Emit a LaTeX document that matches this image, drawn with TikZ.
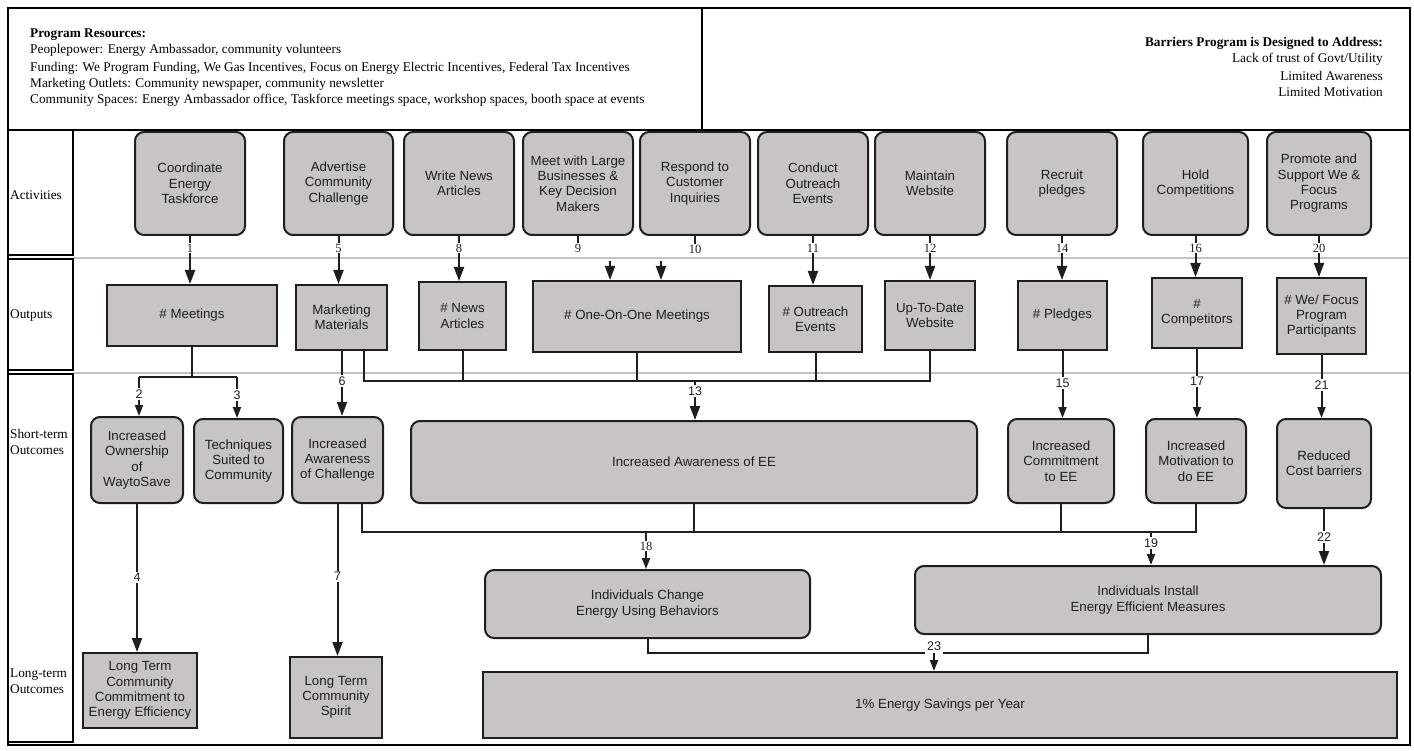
\documentclass[tikz,border=0pt]{standalone}
\usepackage{fontspec}
\setmainfont{Liberation Serif}
\newfontfamily\boxfont{Liberation Sans}
\usetikzlibrary{positioning, arrows.meta}

\definecolor{boxgray}{RGB}{200,196,196}
\definecolor{rulegray}{RGB}{195,195,195}
\definecolor{ink}{RGB}{30,30,30}

\begin{document}
\begin{tikzpicture}[x=1pt, y=-1pt,
  activity/.style={rectangle, draw=ink, line width=2pt, rounded corners=9pt, fill=boxgray, text=ink, align=center, inner sep=2pt, font=\boxfont\fontsize{13.3}{15.3}\selectfont},
  output/.style={activity, sharp corners},
  outcome/.style={activity},
  num/.style={inner sep=1pt, text=ink, font=\fontsize{12.5}{14}\selectfont},
  numsf/.style={num, font=\boxfont\fontsize{12.5}{14}\selectfont},
  wire/.style={draw=ink, line width=2pt},
  link/.style={wire, -{Triangle[length=14pt, width=10pt]}},
  slink/.style={wire, -{Triangle[length=11pt, width=8pt]}},
  frame/.style={draw=black, line width=2.6pt},
  rule/.style={draw=rulegray, line width=1.5pt},
  rowname/.style={anchor=west, align=left, inner sep=0pt, font=\fontsize{13.3}{16}\selectfont}
]
\useasboundingbox (0,0) rectangle (1414,751);

% Header
\draw[frame] (8,8) rectangle (702,130);
\draw[frame] (702,8) rectangle (1410,130);
\node[anchor=north west, align=left, inner sep=0pt, font=\fontsize{13.3}{16}\selectfont] (resources) at (30,29)
  {\textbf{Program Resources:}\\
   Peoplepower: Energy Ambassador, community volunteers\\[2pt]
   Funding: We Program Funding, We Gas Incentives, Focus on Energy Electric Incentives, Federal Tax Incentives\\
   Marketing Outlets: Community newspaper, community newsletter\\
   Community Spaces: Energy Ambassador office, Taskforce meetings space, workshop spaces, booth space at events};
\node[anchor=north east, align=right, inner sep=0pt, font=\fontsize{13.3}{16}\selectfont] (barriers) at (1383,37)
  {\textbf{Barriers Program is Designed to Address:}\\
   Lack of trust of Govt/Utility\\[2pt]
   Limited Awareness\\
   Limited Motivation};

% Rows
\draw[rule] (73,258) -- (1410,258);
\draw[rule] (73,373) -- (1410,373);
\draw[frame] (8,130) rectangle (1410,745);
\draw[frame] (8,130) rectangle (73,255);
\draw[frame] (8,259) rectangle (73,370);
\draw[frame] (8,374) rectangle (73,742);
\node[rowname] (lact) at (10,195) {Activities};
\node[rowname] (lout) at (10,316) {Outputs};
\node[rowname] (lshort) at (10,442) {Short-term\\Outcomes};
\node[rowname] (llong) at (10,681) {Long-term\\Outcomes};

% Activities
\node[activity, minimum width=110pt, minimum height=103pt] (a1) at (190,183.5) {Coordinate\\Energy\\Taskforce};
\node[activity, minimum width=109pt, minimum height=103pt] (a5) at (338.5,183.5) {Advertise\\Community\\Challenge};
\node[activity, minimum width=110pt, minimum height=103pt] (a8) at (459,183.5) {Write News\\Articles};
\node[activity, minimum width=110pt, minimum height=103pt] (a9) at (578,183.5) {Meet with Large\\Businesses \&\\Key Decision\\Makers};
\node[activity, minimum width=110pt, minimum height=103pt] (a10) at (695,183.5) {Respond to\\Customer\\Inquiries};
\node[activity, minimum width=110pt, minimum height=103pt] (a11) at (813,183.5) {Conduct\\Outreach\\Events};
\node[activity, minimum width=110pt, minimum height=103pt] (a12) at (930,183.5) {Maintain\\Website};
\node[activity, minimum width=110pt, minimum height=103pt] (a14) at (1062,183.5) {Recruit\\pledges};
\node[activity, minimum width=105pt, minimum height=103pt] (a16) at (1195.5,183.5) {Hold\\Competitions};
\node[activity, minimum width=104pt, minimum height=103pt] (a20) at (1319,183.5) {Promote and\\Support We \&\\Focus\\Programs};

% Outputs
\node[output, minimum width=170pt, minimum height=61pt] (o1) at (192,315.5) {\# Meetings};
\node[output, minimum width=91pt, minimum height=65pt] (o5) at (341.5,317.5) {Marketing\\Materials};
\node[output, minimum width=87pt, minimum height=68pt] (o8) at (462.5,316) {\# News\\Articles};
\node[output, minimum width=208pt, minimum height=71pt] (o9) at (637,316.5) {\# One-On-One Meetings};
\node[output, minimum width=93pt, minimum height=66pt] (o11) at (815.5,319) {\# Outreach\\Events};
\node[output, minimum width=90pt, minimum height=69pt] (o12) at (930,315.5) {Up-To-Date\\Website};
\node[output, minimum width=89pt, minimum height=69pt] (o14) at (1062.5,315.5) {\# Pledges};
\node[output, minimum width=90pt, minimum height=70pt] (o16) at (1197,313) {\#\\Competitors};
\node[output, minimum width=89pt, minimum height=76pt] (o20) at (1321.5,316) {\# We/ Focus\\Program\\Participants};

% Short-term outcomes
\node[outcome, minimum width=92pt, minimum height=86pt] (s2) at (137,460) {Increased\\Ownership\\of\\WaytoSave};
\node[outcome, minimum width=89pt, minimum height=84pt] (s3) at (238.5,461) {Techniques\\Suited to\\Community};
\node[outcome, minimum width=91pt, minimum height=86pt] (s6) at (337.5,460) {Increased\\Awareness\\of Challenge};
\node[outcome, minimum width=566pt, minimum height=82pt] (s13) at (694,462) {Increased Awareness of EE};
\node[outcome, minimum width=106pt, minimum height=84pt] (s15) at (1061,461) {Increased\\Commitment\\to EE};
\node[outcome, minimum width=100pt, minimum height=84pt] (s17) at (1196,461) {Increased\\Motivation to\\do EE};
\node[outcome, minimum width=94pt, minimum height=89pt] (s21) at (1324,463.5) {Reduced\\Cost barriers};

% Behaviour changes
\node[outcome, minimum width=325pt, minimum height=68pt] (m18) at (647.5,604) {Individuals Change\\Energy Using Behaviors};
\node[outcome, minimum width=466pt, minimum height=68pt] (m19) at (1148,600) {Individuals Install\\Energy Efficient Measures};

% Long-term outcomes
\node[output, minimum width=114pt, minimum height=75pt] (l4) at (140,690.5) {Long Term\\Community\\Commitment to\\Energy Efficiency};
\node[output, minimum width=92pt, minimum height=81pt] (l7) at (336,697.5) {Long Term\\Community\\Spirit};
\node[output, minimum width=914pt, minimum height=66pt] (l23) at (940,705) {1\% Energy Savings per Year};

% Activities to outputs
\node[num] (n1) at (a1.south |- 0,248) {1};
\node[num] (n5) at (a5.south |- 0,248) {5};
\node[num] (n8) at (a8.south |- 0,248) {8};
\node[num] (n9) at (a9.south |- 0,248) {9};
\node[num] (n10) at (a10.south |- 0,249) {10};
\node[num] (n11) at (a11.south |- 0,248) {11};
\node[num] (n12) at (a12.south |- 0,248) {12};
\node[num] (n14) at (a14.south |- 0,248) {14};
\node[num] (n16) at (a16.south |- 0,248) {16};
\node[num] (n20) at (a20.south |- 0,248) {20};
\coordinate (t9) at (610,261);
\coordinate (t10) at (661,261);
\draw[wire] (a1) -- (n1);
\draw[link] (n1) -- (n1 |- o1.north);
\draw[wire] (a5) -- (n5);
\draw[link] (n5) -- (n5 |- o5.north);
\draw[wire] (a8) -- (n8);
\draw[link] (n8) -- (n8 |- o8.north);
\draw[wire] (a9) -- (n9);
\draw[link] (t9) -- (t9 |- o9.north);
\draw[wire] (a10) -- (n10);
\draw[link] (t10) -- (t10 |- o9.north);
\draw[wire] (a11) -- (n11);
\draw[link] (n11) -- (n11 |- o11.north);
\draw[wire] (a12) -- (n12);
\draw[link] (n12) -- (n12 |- o12.north);
\draw[wire] (a14) -- (n14);
\draw[link] (n14) -- (n14 |- o14.north);
\draw[wire] (a16) -- (n16);
\draw[link] (n16) -- (n16 |- o16.north);
\draw[wire] (a20) -- (n20);
\draw[link] (n20) -- (n20 |- o20.north);

% Outputs to short-term outcomes
\coordinate (j1) at (o1.south |- 0,377);
\coordinate (j2) at (139,377);
\coordinate (j3) at (237,377);
\node[numsf] (n2) at (139,394) {2};
\node[numsf] (n3) at (237,395) {3};
\draw[wire] (o1) -- (j1);
\draw[wire] (j2) -- (j3);
\draw[wire] (j2) -- (n2);
\draw[slink] (n2) -- (n2 |- s2.north);
\draw[wire] (j3) -- (n3);
\draw[slink] (n3) -- (n3 |- s3.north);

\node[numsf] (n6) at (342,381) {6};
\draw[wire] (o5.south -| n6) -- (n6);
\draw[link] (n6) -- (n6 |- s6.north);

\coordinate (busL) at (364,381);
\coordinate (busR) at (o12.south |- 0,381);
\node[numsf] (n13) at (695,391) {13};
\draw[wire] (o5.south -| busL) -- (busL) -- (busR) -- (o12.south);
\draw[wire] (o8) -- (o8 |- busL);
\draw[wire] (o9) -- (o9 |- busL);
\draw[wire] (o11) -- (o11 |- busL);
\draw[wire] (n13 |- busL) -- (n13);
\draw[link] (n13) -- (n13 |- s13.north);

\node[numsf] (n15) at (o14.south |- 0,383) {15};
\node[numsf] (n17) at (o16.south |- 0,381) {17};
\node[numsf] (n21) at (o20.south |- 0,385) {21};
\draw[wire] (o14) -- (n15);
\draw[slink] (n15) -- (n15 |- s15.north);
\draw[wire] (o16) -- (n17);
\draw[slink] (n17) -- (n17 |- s17.north);
\draw[wire] (o20) -- (n21);
\draw[slink] (n21) -- (n21 |- s21.north);

% Short-term to long-term
\node[numsf] (n4) at (s2.south |- 0,577) {4};
\node[numsf] (n7) at (s6.south |- 0,576) {7};
\draw[wire] (s2) -- (n4);
\draw[link] (n4) -- (n4 |- l4.north);
\draw[wire] (s6) -- (n7);
\draw[link] (n7) -- (n7 |- l7.north);

\coordinate (busA) at (362,532);
\coordinate (busB) at (s17.south |- 0,532);
\node[num] (n18) at (646,546) {18};
\node[numsf] (n19) at (1151,543) {19};
\node[numsf] (n22) at (s21.south |- 0,537) {22};
\draw[wire] (s6.south -| busA) -- (busA) -- (busB) -- (s17.south);
\draw[wire] (s13) -- (s13 |- busA);
\draw[wire] (s15) -- (s15 |- busA);
\draw[wire] (n18 |- busA) -- (n18);
\draw[slink] (n18) -- (n18 |- m18.north);
\draw[wire] (n19 |- busA) -- (n19);
\draw[slink] (n19) -- (n19 |- m19.north);
\draw[wire] (s21) -- (n22);
\draw[link] (n22) -- (n22 |- m19.north);

\node[numsf, inner sep=2pt] (n23) at (934,646) {23};
\draw[wire] (m18.south) |- (n23.south west);
\draw[wire] (m19.south) |- (n23.south east);
\draw[slink] (n23.south) -- (n23.south |- l23.north);

\end{tikzpicture}
\end{document}
